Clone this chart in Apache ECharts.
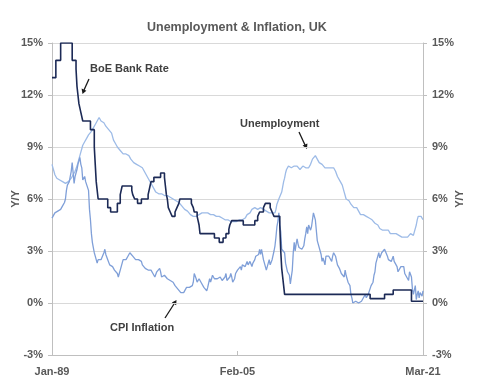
<!DOCTYPE html>
<html>
<head>
<meta charset="utf-8">
<script src="https://cdn.jsdelivr.net/npm/echarts@6/dist/echarts.min.js"></script>
<style>
html,body{margin:0;padding:0;background:#fff;}
#c{width:481px;height:390px;}
</style>
</head>
<body>
<div id="c"></div>
<script>
// Month index 0 = Jan-89 ... 386 = Mar-21
const xTickLabels = ['Jan-89', 'Feb-05', 'Mar-21'];

// Unemployment rate (%), monthly Jan-89 .. Mar-21
const unemployment = [
  8.0, 7.8, 7.6, 7.4, 7.3, 7.2, 7.2, 7.1, 7.1, 7.0, 7.0, 7.0,
  6.9, 6.9, 6.9, 6.9, 6.9, 7.0, 7.0, 7.1, 7.2, 7.3, 7.4, 7.5,
  7.6, 7.7, 7.9, 8.1, 8.3, 8.5, 8.7, 8.9, 9.1, 9.2, 9.3, 9.4,
  9.5, 9.6, 9.7, 9.7, 9.8, 9.9, 10.0, 10.1, 10.2, 10.3, 10.3, 10.5,
  10.6, 10.7, 10.6, 10.5, 10.5, 10.4, 10.4, 10.3, 10.2, 10.2, 10.1, 10.0,
  10.0, 9.9, 9.8, 9.6, 9.4, 9.3, 9.2, 9.1, 9.0, 8.9, 8.9, 8.8,
  8.7, 8.7, 8.6, 8.5, 8.5, 8.6, 8.6, 8.6, 8.5, 8.4, 8.3, 8.3,
  8.2, 8.1, 8.1, 8.1, 8.0, 8.0, 7.9, 7.9, 7.9, 7.8, 7.8, 7.7,
  7.6, 7.5, 7.4, 7.3, 7.2, 7.1, 7.0, 6.9, 6.8, 6.7, 6.6, 6.5,
  6.4, 6.3, 6.3, 6.3, 6.2, 6.3, 6.3, 6.2, 6.2, 6.2, 6.1, 6.2,
  6.2, 6.1, 6.1, 6.1, 6.0, 6.0, 6.0, 5.9, 5.9, 5.9, 5.9, 5.9,
  5.8, 5.8, 5.7, 5.6, 5.5, 5.5, 5.4, 5.4, 5.3, 5.3, 5.3, 5.2,
  5.1, 5.1, 5.0, 5.0, 5.0, 5.0, 5.0, 5.0, 5.0, 5.1, 5.1, 5.1,
  5.2, 5.2, 5.2, 5.2, 5.2, 5.2, 5.2, 5.3, 5.2, 5.1, 5.1, 5.0,
  5.1, 5.1, 5.1, 5.0, 5.0, 5.0, 5.0, 5.0, 4.9, 4.9, 4.9, 4.8,
  4.8, 4.8, 4.8, 4.8, 4.8, 4.8, 4.7, 4.7, 4.7, 4.7, 4.7, 4.8,
  4.7, 4.8, 4.8, 4.8, 4.8, 4.8, 4.8, 4.8, 4.8, 4.9, 5.0, 5.1,
  5.1, 5.2, 5.2, 5.3, 5.4, 5.5, 5.5, 5.5, 5.5, 5.4, 5.4, 5.5,
  5.5, 5.5, 5.5, 5.4, 5.4, 5.4, 5.3, 5.3, 5.3, 5.2, 5.2, 5.2,
  5.2, 5.2, 5.2, 5.2, 5.2, 5.4, 5.7, 5.8, 6.0, 6.1, 6.1, 6.4,
  6.7, 7.0, 7.2, 7.5, 7.7, 7.8, 7.9, 7.8, 7.9, 7.8, 7.8, 7.7,
  7.9, 8.0, 7.9, 7.9, 7.8, 7.8, 7.7, 7.7, 7.8, 7.9, 7.9, 7.9,
  7.8, 7.8, 7.8, 7.8, 7.9, 8.0, 8.1, 8.3, 8.3, 8.4, 8.5, 8.4,
  8.3, 8.2, 8.1, 8.1, 8.1, 8.0, 8.0, 7.9, 7.8, 7.8, 7.8, 7.8,
  7.9, 7.8, 7.8, 7.8, 7.8, 7.8, 7.7, 7.6, 7.5, 7.3, 7.2, 7.2,
  7.0, 6.9, 6.8, 6.6, 6.4, 6.2, 6.0, 6.0, 6.0, 5.9, 5.8, 5.7,
  5.6, 5.6, 5.5, 5.6, 5.6, 5.5, 5.4, 5.3, 5.2, 5.1, 5.1, 5.1,
  5.1, 5.1, 5.1, 5.0, 4.9, 4.9, 4.9, 4.8, 4.8, 4.8, 4.8, 4.7,
  4.6, 4.6, 4.6, 4.5, 4.4, 4.3, 4.3, 4.3, 4.2, 4.3, 4.2, 4.2,
  4.2, 4.2, 4.2, 4.1, 4.0, 4.0, 4.0, 4.0, 4.0, 4.0, 4.0, 4.0,
  3.9, 3.9, 3.8, 3.8, 3.8, 3.8, 3.9, 3.8, 3.8, 3.8, 3.8, 3.8,
  3.9, 4.0, 3.9, 3.9, 3.9, 4.1, 4.1, 4.5, 4.8, 5.0, 5.1, 5.1,
  5.0, 4.9, 4.8
];

// CPI inflation (% y/y), monthly Jan-89 .. Mar-21
const cpiInflation = [
  4.9, 5.0, 5.0, 5.2, 5.3, 5.2, 5.3, 5.2, 5.2, 5.4, 5.5, 5.6,
  5.7, 5.8, 6.0, 6.5, 6.8, 6.9, 7.0, 7.3, 7.6, 8.1, 7.5, 6.9,
  7.3, 7.5, 7.7, 8.0, 8.2, 8.4, 8.0, 7.8, 7.1, 7.2, 7.3, 7.0,
  6.9, 7.1, 6.5, 5.4, 4.8, 4.0, 3.5, 3.2, 2.9, 2.7, 2.5, 2.3,
  2.5, 2.4, 2.4, 2.5, 2.6, 2.6, 2.9, 3.1, 2.8, 2.7, 2.5, 2.4,
  2.2, 2.3, 2.1, 2.1, 2.0, 1.9, 1.9, 1.8, 1.7, 1.5, 1.7, 1.9,
  2.1, 2.3, 2.5, 2.4, 2.6, 2.5, 2.6, 2.7, 2.8, 2.9, 2.8, 2.8,
  2.7, 2.6, 2.6, 2.5, 2.5, 2.6, 2.5, 2.6, 2.6, 2.4, 2.2, 2.1,
  2.1, 2.0, 2.0, 2.0, 1.9, 1.9, 1.8, 1.9, 1.8, 1.7, 1.6, 1.5,
  1.6, 1.8, 1.7, 1.9, 2.0, 1.8, 1.5, 1.5, 1.4, 1.6, 1.5, 1.5,
  1.4, 1.5, 1.3, 1.3, 1.3, 1.2, 1.2, 1.1, 1.0, 0.9, 0.9, 0.8,
  0.8, 0.9, 0.6, 0.6, 0.5, 0.6, 0.6, 0.6, 0.9, 0.9, 0.9, 0.9,
  0.9, 1.0, 1.0, 1.2, 1.7, 1.6, 1.4, 1.2, 1.1, 1.4, 1.5, 1.2,
  1.2, 1.1, 0.9, 0.8, 0.8, 0.7, 0.9, 1.0, 1.4, 1.2, 1.4, 1.6,
  1.5, 1.4, 1.3, 1.5, 1.4, 1.3, 1.5, 1.5, 1.4, 1.3, 1.2, 1.3,
  1.5, 1.7, 1.3, 1.2, 1.3, 1.5, 1.7, 1.5, 1.2, 1.1, 1.4, 1.7,
  1.6, 1.9, 1.8, 1.9, 2.1, 1.9, 2.2, 2.1, 2.3, 2.1, 2.2, 2.4,
  2.2, 2.1, 2.4, 2.5, 2.1, 2.3, 2.4, 2.5, 2.7, 2.6, 2.8, 2.8,
  3.1, 2.8, 3.1, 2.8, 2.5, 2.4, 2.1, 1.9, 1.9, 2.3, 2.5, 2.2,
  2.2, 2.5, 2.5, 3.0, 3.3, 3.8, 4.4, 4.7, 5.2, 4.5, 4.1, 3.1,
  3.0, 3.2, 2.9, 2.3, 2.2, 1.8, 1.8, 1.6, 1.1, 1.5, 1.9, 2.9,
  3.5, 3.0, 3.4, 3.7, 3.4, 3.2, 3.1, 3.1, 3.1, 3.2, 3.3, 3.7,
  4.0, 4.4, 4.0, 4.5, 4.5, 4.2, 4.4, 4.5, 5.2, 5.0, 4.8, 4.2,
  3.6, 3.4, 3.5, 3.0, 2.8, 2.4, 2.6, 2.5, 2.2, 2.7, 2.7, 2.7,
  2.7, 2.8, 2.8, 2.4, 2.7, 2.9, 2.8, 2.7, 2.7, 2.2, 2.1, 2.0,
  1.9, 1.7, 1.6, 1.8, 1.5, 1.9, 1.6, 1.5, 1.2, 1.3, 1.0, 0.5,
  0.3, 0.0, 0.0, -0.1, 0.1, 0.0, 0.1, 0.0, -0.1, -0.1, 0.1, 0.2,
  0.3, 0.3, 0.5, 0.3, 0.3, 0.5, 0.6, 0.6, 1.0, 0.9, 1.2, 1.6,
  1.8, 2.3, 2.3, 2.7, 2.9, 2.6, 2.6, 2.9, 3.0, 3.0, 3.1, 3.0,
  3.0, 2.7, 2.5, 2.4, 2.4, 2.4, 2.5, 2.7, 2.4, 2.4, 2.3, 2.1,
  1.8, 1.9, 1.9, 2.1, 2.0, 2.0, 2.1, 1.7, 1.7, 1.5, 1.5, 1.3,
  1.8, 1.7, 1.5, 0.8, 0.5, 0.6, 1.0, 0.2, 0.5, 0.7, 0.3, 0.6,
  0.7, 0.4, 0.7
];

// BoE Bank Rate (%): month index of each change and the new rate
const bankRateMonths = [0, 4, 9, 21, 25, 26, 27, 28, 30, 32, 40, 44, 45, 46, 48, 58, 61, 68, 71, 73,
  83, 84, 86, 89, 93, 100, 101, 102, 103, 106, 113, 117, 118, 119, 120, 121, 123, 125, 128, 130,
  132, 133, 145, 147, 148, 151, 152, 153, 154, 169, 174, 178, 181, 184, 185, 187, 199, 211, 214, 216,
  220, 222, 227, 229, 231, 237, 238, 239, 240, 241, 242, 331, 346, 355, 374, 386];
const bankRateValues = [13, 14, 15, 14, 13.5, 12.5, 12, 11.5, 11, 10.5, 10, 9, 8, 7, 6, 5.5, 5.25, 5.75, 6.25, 6.75,
  6.5, 6.25, 6, 5.75, 6, 6.25, 6.5, 6.75, 7, 7.25, 7.5, 7.25, 6.75, 6.25, 6, 5.5, 5.25, 5, 5.25, 5.5,
  5.75, 6, 5.75, 5.5, 5.25, 5, 4.75, 4.5, 4, 3.75, 3.5, 3.75, 4, 4.25, 4.5, 4.75, 4.5, 4.75, 5, 5.25,
  5.5, 5.75, 5.5, 5.25, 5, 4.5, 3, 2, 1.5, 1, 0.5, 0.25, 0.5, 0.75, 0.1, 0.1];

const yTicks = { min: -3, max: 15, interval: 3 };

const chart = echarts.init(document.getElementById('c'), null, { renderer: 'canvas' });

const labelColor = '#595959';
const fontFam = '"Liberation Sans", Arial, sans-serif';

function yAxisCfg(pos) {
  return {
    type: 'value', position: pos,
    min: yTicks.min, max: yTicks.max, interval: yTicks.interval,
    name: 'Y/Y', nameLocation: 'middle', nameGap: 31, nameRotate: 90, nameMoveOverlap: false,
    nameTextStyle: { color: labelColor, fontWeight: 'bold', fontSize: 11, fontFamily: fontFam },
    axisLine: { show: true, lineStyle: { color: '#bfbfbf', width: 1 } },
    axisTick: { show: true, length: 4, lineStyle: { color: '#bfbfbf' } },
    axisLabel: { formatter: '{value}%', color: labelColor, fontWeight: 'bold', fontSize: 11, fontFamily: fontFam, margin: 9 },
    splitLine: { show: pos === 'left', lineStyle: { color: '#d9d9d9', width: 1 } }
  };
}

const option = {
  animation: false,
  backgroundColor: '#ffffff',
  title: {
    text: 'Unemployment & Inflation, UK',
    left: 142, top: 16,
    textStyle: { color: labelColor, fontWeight: 'bold', fontSize: 12.5, fontFamily: fontFam }
  },
  grid: { left: 52, right: 58, top: 43, bottom: 35, containLabel: false, outerBoundsMode: 'none' },
  xAxis: {
    type: 'value', min: 0, max: 386, interval: 193,
    axisLine: { show: true, onZero: false, lineStyle: { color: '#bfbfbf' } },
    axisTick: { show: true, length: 4, inside: true, lineStyle: { color: '#bfbfbf' } },
    splitLine: { show: false },
    axisLabel: {
      color: labelColor, fontWeight: 'bold', fontSize: 11, fontFamily: fontFam, margin: 11,
      showMinLabel: true, showMaxLabel: true,
      formatter: v => xTickLabels[Math.round(v / 193)] || ''
    }
  },
  yAxis: [yAxisCfg('left'), yAxisCfg('right')],
  series: [
    {
      name: 'Unemployment', type: 'line', showSymbol: false, symbol: 'none',
      data: unemployment.map((v, i) => [i, v]),
      lineStyle: { color: '#9dbbe7', width: 1.3 }, z: 2
    },
    {
      name: 'CPI Inflation', type: 'line', showSymbol: false, symbol: 'none',
      data: cpiInflation.map((v, i) => [i, v]),
      lineStyle: { color: '#7f9fd8', width: 1.3 }, z: 3
    },
    {
      name: 'BoE Bank Rate', type: 'line', showSymbol: false, symbol: 'none', step: 'end',
      data: bankRateMonths.map((m, i) => [m, bankRateValues[i]]),
      lineStyle: { color: '#1c2a56', width: 1.6 }, z: 4
    }
  ],
  graphic: [
    { type: 'text', left: 90, top: 63, style: { text: 'BoE Bank Rate', fill: '#404040', font: 'bold 11px ' + fontFam } },
    { type: 'text', left: 240, top: 118, style: { text: 'Unemployment', fill: '#404040', font: 'bold 11px ' + fontFam } },
    { type: 'text', left: 110, top: 322, style: { text: 'CPI Inflation', fill: '#404040', font: 'bold 11px ' + fontFam } },
    { type: 'line', shape: { x1: 89, y1: 79, x2: 84, y2: 90 }, style: { stroke: '#1a1a1a', lineWidth: 1.3 } },
    { type: 'polygon', shape: { points: [[82.5, 94], [81.6, 88.6], [86.4, 90.8]] }, style: { fill: '#1a1a1a' } },
    { type: 'line', shape: { x1: 299, y1: 132, x2: 305, y2: 145 }, style: { stroke: '#1a1a1a', lineWidth: 1.3 } },
    { type: 'polygon', shape: { points: [[307, 149], [302.6, 145.5], [307.4, 143.4]] }, style: { fill: '#1a1a1a' } },
    { type: 'line', shape: { x1: 165, y1: 318, x2: 174, y2: 304 }, style: { stroke: '#1a1a1a', lineWidth: 1.3 } },
    { type: 'polygon', shape: { points: [[176.5, 300], [171.8, 302.5], [176.2, 305.3]] }, style: { fill: '#1a1a1a' } }
  ]
};

chart.setOption(option);
</script>
</body>
</html>
